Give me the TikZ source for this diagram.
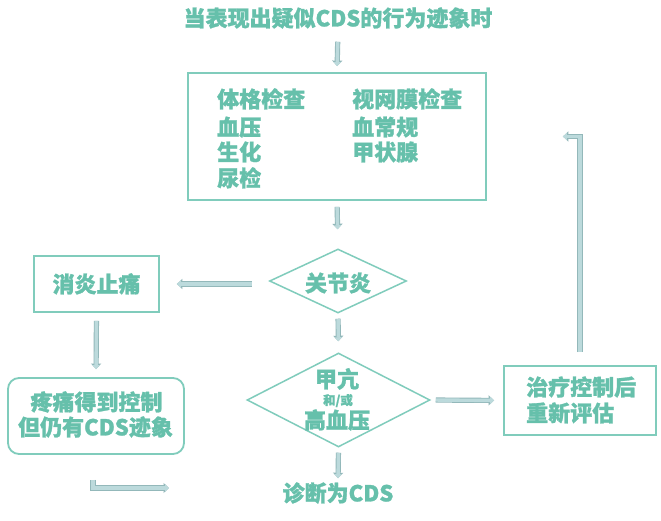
\documentclass[tikz,border=0pt]{standalone}
\usepackage{fontspec}
\setmainfont{Noto Sans CJK SC}[BoldFont={Noto Sans CJK SC Black}, BoldFeatures={FakeBold=1.2}]
\usetikzlibrary{shapes.geometric,arrows.meta}
\definecolor{tealtxt}{HTML}{66C0AB}
\definecolor{boxc}{HTML}{80CCBC}
\definecolor{afill}{HTML}{BCDADC}
\definecolor{aline}{HTML}{93B8BA}
\tikzset{
  txt/.style={text=tealtxt, font=\bfseries\fontsize{22}{26}\selectfont, inner sep=0pt},
  smalltxt/.style={text=tealtxt, font=\bfseries\fontsize{12.5}{14}\selectfont, inner sep=0pt},
  boxn/.style={draw=boxc, line width=1.8pt, fill=white, inner sep=0pt},
  diam/.style={diamond, draw=boxc, line width=1.5pt, fill=white, inner sep=0pt},
  blk/.style={draw=afill, line width=3.4pt, line join=miter,
    -{Triangle[length=4pt,width=7pt]},
    preaction={draw=aline, line width=5.2pt, line join=miter, -{Triangle[length=5.5pt,width=10pt]}}}
}
\begin{document}
\begin{tikzpicture}[x=1pt,y=-1pt]
\useasboundingbox[fill=white] (0,0) rectangle (661,521);
% title
\node[txt, anchor=base] (title) at (338,26.4) {当表现出疑似CDS的行为迹象时};
% box 1
\node[boxn, minimum width=298pt, minimum height=127pt] (b1) at (337,136.5) {};
\node[txt, anchor=base west] (c1a) at (217,107.4) {体格检查};
\node[txt, anchor=base west] (c1b) at (217,135.4) {血压};
\node[txt, anchor=base west] (c1c) at (217,160.4) {生化};
\node[txt, anchor=base west] (c1d) at (217,186.4) {尿检};
\node[txt, anchor=base west] (c2a) at (352,107.4) {视网膜检查};
\node[txt, anchor=base west] (c2b) at (352,135.4) {血常规};
\node[txt, anchor=base west] (c2c) at (352,160.4) {甲状腺};
% diamond 1
\node[diam, minimum width=137pt, minimum height=64pt] (d1) at (338,281) {};
\node[txt, anchor=base] (d1t) at (338,291.4) {关节炎};
% box 消炎止痛
\node[boxn, minimum width=125pt, minimum height=56pt] (b2) at (96.5,284) {};
\node[txt, anchor=base] (b2t) at (96.5,292.4) {消炎止痛};
% rounded box
\node[boxn, rounded corners=11pt, minimum width=176pt, minimum height=76pt] (rb) at (96,416) {};
\node[txt, anchor=base] (rbt1) at (96.5,410.4) {疼痛得到控制};
\node[txt, anchor=base] (rbt2) at (95.5,435.4) {但仍有CDS迹象};
% diamond 2
\node[diam, minimum width=183pt, minimum height=94pt] (d2) at (338.5,400) {};
\node[txt, anchor=base] (d2t1) at (337,387.4) {甲亢};
\node[smalltxt, anchor=base] (d2t2) at (338,404.8) {和/或};
\node[txt, anchor=base] (d2t3) at (337,428.4) {高血压};
% box 治疗
\node[boxn, minimum width=152pt, minimum height=69pt] (b3) at (580,400.5) {};
\node[txt, anchor=base west] (b3t1) at (526,395.4) {治疗控制后};
\node[txt, anchor=base west] (b3t2) at (526,421.4) {重新评估};
% diagnosis
\node[txt, anchor=base] (diag) at (338,501.4) {诊断为CDS};
\coordinate (e1) at (169,488);
% connectors
\draw[blk, shorten <=13pt, shorten >=6pt] (title.south) -- (b1.north);
\draw[blk, shorten <=6pt, shorten >=19pt] (b1.south) -- (d1.north);
\draw[blk, shorten <=17pt, shorten >=17pt] (d1.west |- b2.east) -- (b2.east);
\draw[blk, shorten <=8pt, shorten >=8pt] (b2.south) -- (rb.north);
\draw[blk, shorten <=5pt, shorten >=11pt] (d1.south) -- (d2.north);
\draw[blk, shorten <=5pt, shorten >=9pt] (d2.east) -- (b3.west);
\draw[blk, shorten <=13pt, shorten >=76pt] (b3.north) |- (b1.east);
\draw[blk, shorten <=5pt, shorten >=4pt] (d2.south) -- (diag.north);
\draw[blk, shorten <=25pt] ([xshift=-3pt]rb.south) |- (e1);
\end{tikzpicture}
\end{document}
